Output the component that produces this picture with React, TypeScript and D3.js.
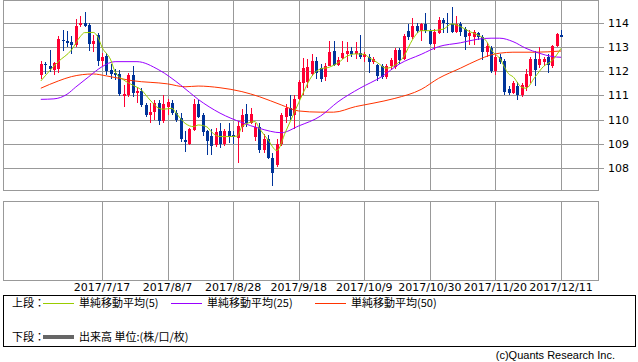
import * as d3 from 'd3';

// daily candles, 2017/6/27 .. 2017/12/11 (weekdays)
const open = [
  111.86, 112.3, 112.24, 112.05, 112.08, 113.3, 113.27, 113.2, 113.1, 113.9,
  114.0, 113.92, 113.12, 113.5, 112.43, 112.64, 112.05, 111.94, 111.89, 110.98,
  111.02, 111.85, 111.12, 111.2, 110.61, 110.19, 110.33, 110.69, 109.96, 110.51,
  110.69, 110.29, 110.07, 109.16, 108.99, 109.57, 110.65, 110.19, 109.54, 109.32,
  108.95, 109.53, 108.99, 109.53, 109.35, 109.23, 109.71, 110.23, 109.88, 109.3,
  109.71, 108.75, 109.19, 108.4, 108.12, 108.99, 110.12, 110.47, 110.19, 110.84,
  111.5, 111.57, 111.89, 112.43, 112.13, 111.78, 112.22, 112.85, 112.26, 112.54,
  112.7, 112.85, 112.7, 112.75, 112.6, 112.6, 112.4, 112.26, 112.2, 111.78,
  112.2, 112.19, 112.88, 112.5, 113.68, 113.4, 113.88, 113.68, 113.96, 113.68,
  113.13, 113.57, 114.12, 114.01, 113.96, 113.64, 113.96, 113.74, 113.46, 113.43,
  113.57, 113.43, 112.81, 112.95, 112.03, 112.58, 112.44, 111.25, 111.12, 111.4,
  111.02, 111.34, 111.8, 112.5, 112.25, 112.4, 112.6, 112.2, 113.05, 113.5,
];
const high = [
  112.43, 112.4, 112.88, 112.4, 113.45, 113.7, 113.68, 113.45, 114.15, 114.3,
  114.45, 114.0, 113.5, 113.6, 112.75, 112.76, 112.3, 112.1, 112.05, 111.43,
  111.93, 112.2, 111.35, 111.3, 110.7, 110.69, 110.81, 110.81, 111.02, 110.84,
  110.81, 110.4, 110.26, 109.54, 109.64, 110.84, 110.81, 110.26, 109.57, 109.6,
  109.64, 109.85, 109.6, 109.85, 109.55, 109.96, 110.43, 110.65, 110.5, 109.85,
  109.85, 109.4, 109.37, 108.61, 109.2, 110.26, 110.65, 111.02, 111.0, 111.66,
  112.55, 112.5, 112.7, 112.6, 112.3, 112.35, 113.27, 113.27, 112.6, 113.27,
  113.2, 113.0, 113.2, 113.5, 112.8, 112.7, 112.6, 112.3, 112.3, 112.3,
  112.55, 112.95, 112.95, 113.55, 113.95, 114.2, 114.0, 114.0, 114.4, 113.75,
  113.75, 114.25, 114.2, 114.4, 114.65, 114.3, 114.05, 113.85, 113.7, 113.7,
  113.64, 113.5, 113.17, 113.05, 112.7, 112.7, 112.5, 111.4, 111.6, 111.55,
  111.5, 112.1, 112.58, 112.85, 113.0, 112.6, 112.7, 113.1, 113.6, 113.7,
];
const low = [
  111.68, 111.9, 111.98, 111.85, 111.95, 112.85, 113.0, 112.7, 113.0, 113.85,
  113.85, 112.85, 112.8, 112.22, 112.2, 111.85, 111.7, 111.65, 110.98, 110.54,
  110.93, 110.95, 110.7, 110.54, 110.12, 109.88, 109.99, 109.78, 109.85, 110.19,
  110.19, 109.9, 109.09, 108.68, 108.95, 109.54, 110.06, 109.32, 108.54, 108.54,
  108.88, 108.82, 108.9, 109.02, 108.98, 108.22, 109.5, 109.71, 109.8, 109.1,
  108.61, 108.61, 108.36, 107.26, 108.03, 108.9, 109.85, 109.99, 109.6, 110.8,
  111.0, 111.3, 111.8, 111.7, 111.55, 111.6, 112.2, 112.2, 112.2, 112.5,
  112.4, 112.6, 112.5, 112.5, 112.4, 111.95, 112.3, 111.6, 111.7, 111.7,
  112.1, 112.1, 112.3, 112.45, 113.3, 113.35, 113.6, 113.27, 113.6, 113.1,
  112.9, 113.55, 113.6, 113.6, 113.6, 113.6, 113.45, 112.9, 113.08, 113.1,
  113.3, 112.46, 112.6, 111.95, 111.85, 112.3, 111.02, 111.0, 111.06, 110.8,
  110.95, 111.2, 111.5, 111.4, 112.15, 112.2, 111.95, 112.15, 113.0, 113.4,
];
const close = [
  112.3, 112.25, 112.08, 112.33, 113.32, 113.25, 113.17, 113.1, 113.88, 114.0,
  113.87, 113.12, 113.27, 112.44, 112.6, 112.03, 111.89, 111.85, 111.06, 111.06,
  111.85, 111.12, 111.2, 110.61, 110.19, 110.33, 110.7, 109.96, 110.65, 110.74,
  110.28, 109.99, 109.2, 109.09, 109.61, 110.65, 110.12, 109.5, 109.13, 108.91,
  109.5, 108.99, 109.54, 109.3, 109.3, 109.74, 110.19, 109.88, 110.23, 109.71,
  108.75, 109.19, 108.4, 107.81, 108.99, 110.19, 110.47, 110.16, 110.84, 111.57,
  112.13, 112.19, 112.43, 111.95, 111.67, 112.22, 112.81, 112.26, 112.47, 112.75,
  112.85, 112.72, 112.85, 112.58, 112.7, 112.4, 112.5, 111.8, 111.78, 112.2,
  112.47, 112.88, 112.47, 113.46, 113.4, 113.88, 113.68, 113.96, 113.68, 113.13,
  113.64, 114.12, 114.01, 113.96, 113.64, 113.96, 113.64, 113.43, 113.57, 113.64,
  113.41, 112.81, 113.05, 112.03, 112.6, 112.4, 111.16, 111.12, 111.5, 111.02,
  111.43, 111.89, 112.5, 112.06, 112.5, 112.5, 112.25, 113.05, 113.53, 113.44,
];

// moving averages: [candle index, value]
const ma5: [number, number][] = [
  [0, 111.6], [4, 112.4], [7, 112.88], [9, 113.43], [10, 113.6], [12, 113.61],
  [13, 113.43], [14, 113.0], [16, 112.47], [17, 111.98], [19, 111.64], [21, 111.43],
  [23, 111.23], [25, 110.81], [27, 110.47], [28, 110.43], [30, 110.47], [31, 110.26],
  [33, 109.85], [35, 109.71], [36, 109.78], [38, 109.7], [39, 109.5], [41, 109.3],
  [43, 109.3], [45, 109.32], [46, 109.71], [49, 109.92], [50, 109.64], [52, 109.16],
  [54, 108.72], [56, 109.5], [58, 110.3], [60, 111.1], [62, 111.8], [64, 112.1],
  [66, 112.17], [68, 112.35], [70, 112.62], [72, 112.72], [74, 112.7], [75, 112.58],
  [77, 112.36], [79, 112.13], [81, 112.25], [83, 112.6], [85, 113.3], [87, 113.68],
  [89, 113.68], [92, 113.74], [94, 113.96], [96, 113.85], [98, 113.65], [100, 113.5],
  [102, 113.23], [103, 112.9], [104, 112.7], [105, 112.54], [106, 112.2], [107, 111.9],
  [108, 111.78], [110, 111.34], [111, 111.3], [113, 111.75], [115, 112.2], [117, 112.45],
  [119, 112.95],
];
const ma25: [number, number][] = [
  [0, 110.84], [3, 110.86], [6, 111.05], [8, 111.35], [11, 111.78], [14, 112.19],
  [17, 112.4], [22, 112.4], [27, 112.06], [32, 111.43], [36, 110.84], [41, 110.27],
  [46, 109.88], [50, 109.64], [55, 109.46], [59, 109.74], [64, 110.15], [68, 110.74],
  [73, 111.3], [78, 111.78], [82, 112.3], [87, 112.7], [91, 113.02], [96, 113.18],
  [100, 113.33], [103, 113.37], [105, 113.37], [108, 113.23], [111, 112.95], [114, 112.75],
  [117, 112.61], [119, 112.58],
];
const ma50: [number, number][] = [
  [0, 111.3], [4, 111.6], [7, 111.78], [12, 111.89], [15, 111.81], [21, 111.61],
  [29, 111.48], [33, 111.36], [36, 111.39], [41, 111.32], [46, 111.16], [50, 110.95],
  [55, 110.61], [59, 110.36], [64, 110.31], [67, 110.31], [72, 110.54], [76, 110.68],
  [81, 110.88], [87, 111.25], [91, 111.71], [96, 112.13], [100, 112.47], [103, 112.68],
  [105, 112.75], [108, 112.79], [113, 112.79], [119, 112.84],
];

const tickIdx = [14, 29, 44, 59, 74, 89, 104, 119];
const tickLabels = [
  '2017/7/17', '2017/8/7', '2017/8/28', '2017/9/18',
  '2017/10/9', '2017/10/30', '2017/11/20', '2017/12/11',
];
const yTicks = [108, 109, 110, 111, 112, 113, 114];

const legendItems = [
  { label: '単純移動平均(5)', color: '#99cc00' },
  { label: '単純移動平均(25)', color: '#9900ff' },
  { label: '単純移動平均(50)', color: '#ff3300' },
];

const W = 638;
const H = 362;
const left = 3.5;
const right = 598.5;
const upTop = 0.5;
const upBottom = 190.5;
const loTop = 201.5;
const loBottom = 280.5;
const grid = '#999';
const UP = '#ff0033';
const DOWN = '#003399';
const font = 'DejaVu Sans, sans-serif';
const jp = '"Noto Sans CJK JP", sans-serif';

export default function App() {
  const x = d3.scaleLinear().domain([14, 119]).range([102, 561]);
  const y = d3.scaleLinear().domain([107.09, 114.95]).range([190, 0]);

  const maLine = d3
    .line<[number, number]>()
    .x((d) => x(d[0]))
    .y((d) => y(d[1]))
    .curve(d3.curveMonotoneX);

  const lines = [
    { pts: ma50, color: '#ff3300' },
    { pts: ma25, color: '#9900ff' },
    { pts: ma5, color: '#99cc00' },
  ];

  return (
    <svg
      width={W}
      height={H}
      style={{ position: 'absolute', left: 0, top: 0, background: '#fff' }}
    >
      {/* upper panel grid */}
      <g shapeRendering="crispEdges" stroke={grid} fill="none">
        {yTicks.map((t) => (
          <g key={t}>
            <line x1={left} x2={right} y1={Math.round(y(t)) + 0.5} y2={Math.round(y(t)) + 0.5} />
            <line x1={right} x2={right + 5} y1={Math.round(y(t)) + 0.5} y2={Math.round(y(t)) + 0.5} />
          </g>
        ))}
        {tickIdx.map((t) => (
          <g key={t}>
            <line x1={Math.round(x(t)) + 0.5} x2={Math.round(x(t)) + 0.5} y1={upTop} y2={upBottom} />
            <line x1={Math.round(x(t)) + 0.5} x2={Math.round(x(t)) + 0.5} y1={loTop} y2={loBottom} />
          </g>
        ))}
        <rect x={left} y={upTop} width={right - left} height={upBottom - upTop} />
        <rect x={left} y={loTop} width={right - left} height={loBottom - loTop} />
      </g>

      {/* candles */}
      <g shapeRendering="crispEdges">
        {close.map((c, i) => {
          const o = open[i];
          const col = c >= o ? UP : DOWN;
          const cx = Math.round(x(i));
          const top = y(Math.max(o, c));
          const bot = y(Math.min(o, c));
          return (
            <g key={i}>
              <line x1={cx + 0.5} x2={cx + 0.5} y1={y(high[i])} y2={y(low[i])} stroke={col} />
              <rect x={cx - 1} y={top} width={3} height={Math.max(1, bot - top)} fill={col} />
            </g>
          );
        })}
      </g>

      {/* moving averages */}
      <g fill="none" strokeWidth={1}>
        {lines.map((l) => (
          <path key={l.color} d={maLine(l.pts) || ''} stroke={l.color} />
        ))}
      </g>

      {/* y labels */}
      <g fontFamily={font} fontSize={11} fill="#000">
        {yTicks.map((t) => (
          <text key={t} x={608} y={y(t) + 4}>
            {t}
          </text>
        ))}
      </g>

      {/* x labels */}
      <g fontFamily={font} fontSize={11} fill="#000" textAnchor="middle">
        {tickIdx.map((t, i) => (
          <text key={t} x={x(t)} y={291}>
            {tickLabels[i]}
          </text>
        ))}
      </g>

      {/* legend */}
      <rect x={3.5} y={295.5} width={632} height={51} fill="none" stroke="#000" shapeRendering="crispEdges" />
      <g fontFamily={jp} fontSize={11} fill="#000">
        <text x={12} y={307}>上段：</text>
        {legendItems.map((it, i) => {
          const lx = [43, 171, 315][i];
          return (
            <g key={it.label}>
              <line x1={lx} x2={lx + 31} y1={303.5} y2={303.5} stroke={it.color} shapeRendering="crispEdges" />
              <text x={lx + 36} y={307}>{it.label}</text>
            </g>
          );
        })}
        <text x={12} y={341}>下段：</text>
        <line x1={43} x2={74} y1={337} y2={337} stroke="#666" strokeWidth={4} />
        <text x={79} y={341}>出来高 単位:(株/口/枚)</text>
      </g>

      <text
        x={615}
        y={359}
        textAnchor="end"
        fontFamily="Liberation Sans, Arial, sans-serif"
        fontSize={11}
        fill="#000"
      >
        (c)Quants Research Inc.
      </text>
    </svg>
  );
}
